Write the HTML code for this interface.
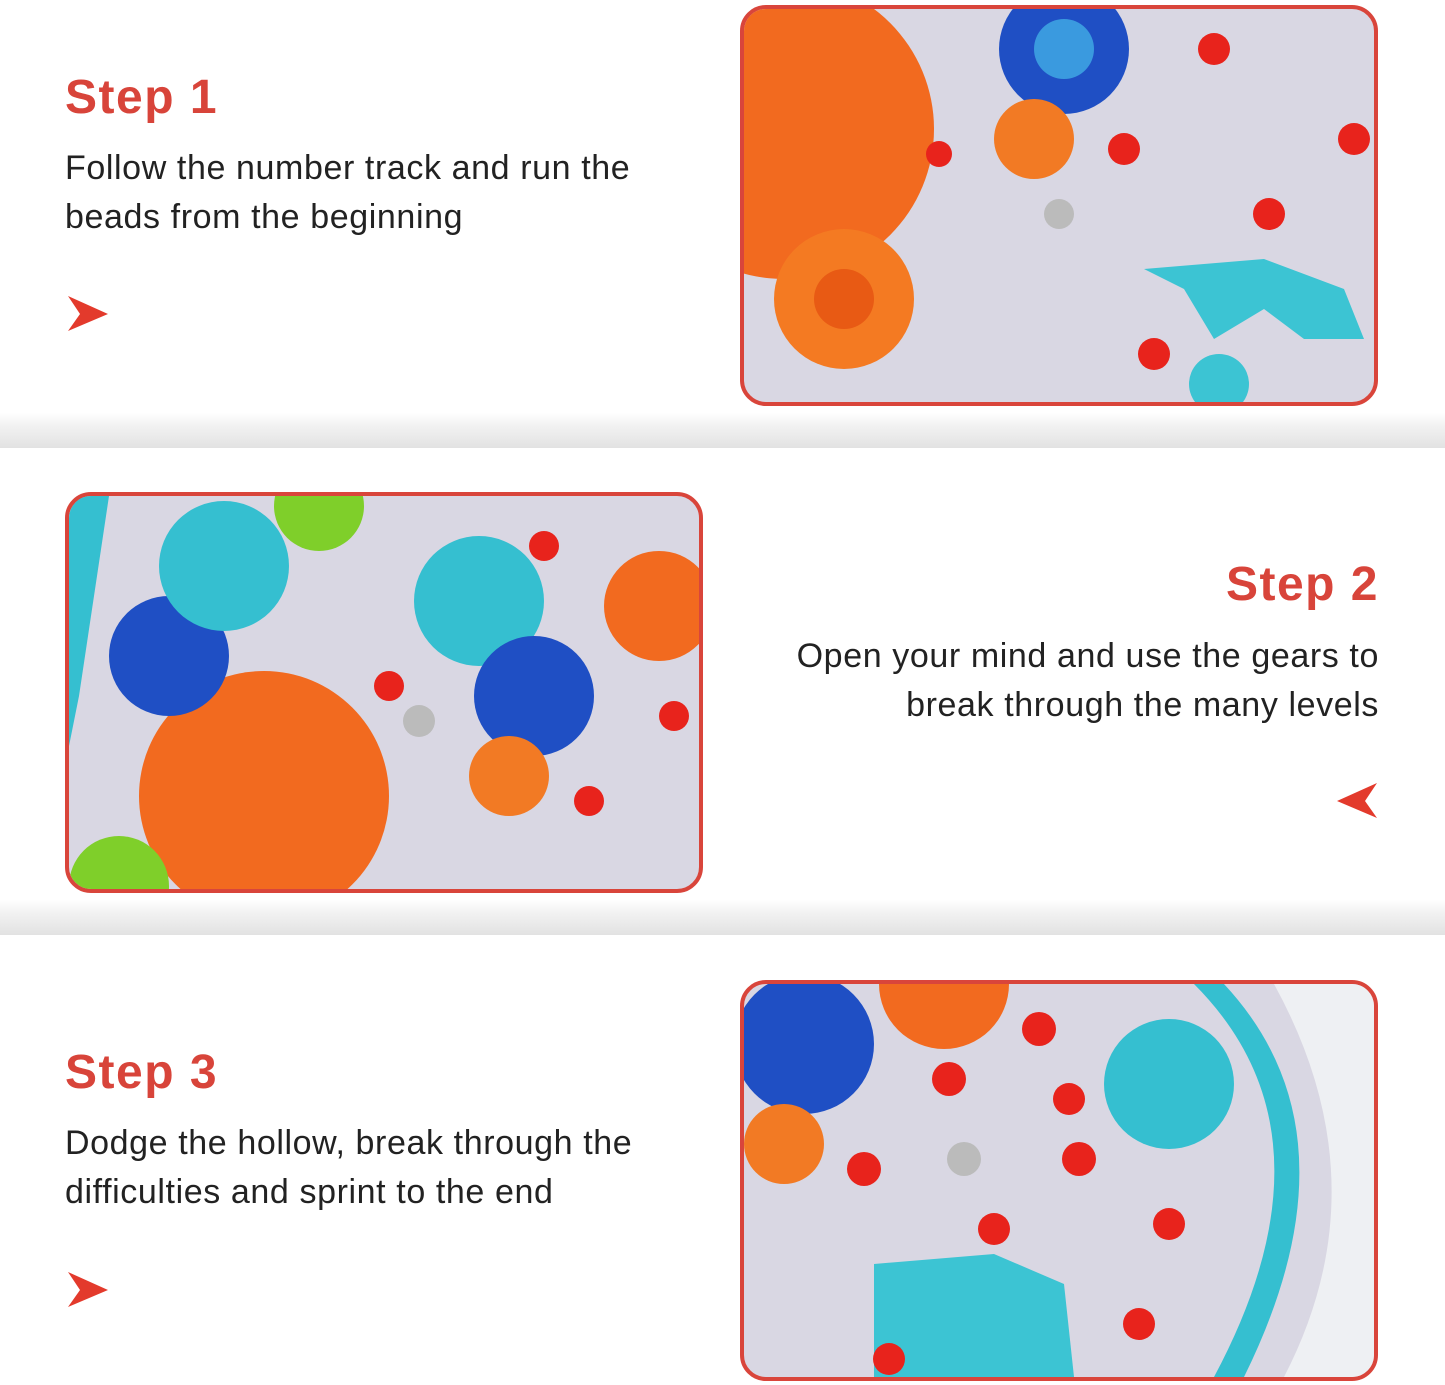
<!DOCTYPE html>
<html><head><meta charset="utf-8"><style>
body{margin:0;width:1445px;height:1385px;background:#fff;position:relative;overflow:hidden;font-family:"Liberation Sans",sans-serif}
.sep{position:absolute;left:0;width:1445px;height:35px;background:linear-gradient(#fff,#f1f1f1 40%,#e2e2e2)}
.t{position:absolute;color:#d8443a;font-weight:bold;font-size:48px;line-height:50px;letter-spacing:1.5px}
.b{position:absolute;color:#222;font-size:34px;line-height:49px;letter-spacing:0.6px;white-space:nowrap}
.ph{position:absolute;width:630px;height:393px;border:4px solid #d9453b;border-radius:26px;overflow:hidden;background:#d9d7e3}
svg{position:absolute;left:0;top:0}
</style></head><body>
<div class="sep" style="top:413px"></div>
<div class="sep" style="top:900px"></div>

<div class="t" style="left:65px;top:73px">Step 1</div>
<div class="b" style="left:65px;top:144px">Follow the number track and run the<br>beads from the beginning</div>
<svg width="1445" height="1385" style="pointer-events:none">
<polygon points="68,296 108,314 68,331 80,314" fill="#e33a2c"/>
<polygon points="1377,783 1337,801 1377,818 1365,801" fill="#e33a2c"/>
<polygon points="68,1272 108,1290 68,1307 80,1290" fill="#e33a2c"/>
</svg>

<div class="t" style="right:66px;top:560px;text-align:right">Step 2</div>
<div class="b" style="right:66px;top:632px;text-align:right">Open your mind and use the gears to<br>break through the many levels</div>

<div class="t" style="left:65px;top:1048px">Step 3</div>
<div class="b" style="left:65px;top:1119px">Dodge the hollow, break through the<br>difficulties and sprint to the end</div>

<div class="ph" style="left:740px;top:5px">
<svg width="630" height="393">
<circle cx="40" cy="120" r="150" fill="#f26a1f"/>
<circle cx="100" cy="290" r="70" fill="#f47a22"/>
<circle cx="100" cy="290" r="30" fill="#e85a14"/>
<circle cx="320" cy="40" r="65" fill="#1f4fc4"/>
<circle cx="320" cy="40" r="30" fill="#3a9adf"/>
<circle cx="290" cy="130" r="40" fill="#f27a24"/>
<path d="M400 260 L520 250 L600 280 L620 330 L560 330 L520 300 L470 330 L440 280 Z" fill="#3cc4d3"/>
<circle cx="475" cy="375" r="30" fill="#3cc4d3"/>
<circle cx="470" cy="40" r="16" fill="#e8231c"/><circle cx="380" cy="140" r="16" fill="#e8231c"/>
<circle cx="525" cy="205" r="16" fill="#e8231c"/><circle cx="610" cy="130" r="16" fill="#e8231c"/>
<circle cx="410" cy="345" r="16" fill="#e8231c"/><circle cx="195" cy="145" r="13" fill="#e8231c"/>
<circle cx="315" cy="205" r="15" fill="#bbb"/>
</svg></div>

<div class="ph" style="left:65px;top:492px">
<svg width="630" height="393">
<circle cx="195" cy="300" r="125" fill="#f26a1f"/>
<circle cx="100" cy="160" r="60" fill="#1f4fc4"/>
<circle cx="155" cy="70" r="65" fill="#35bfd0"/>
<circle cx="410" cy="105" r="65" fill="#35bfd0"/>
<circle cx="465" cy="200" r="60" fill="#1f4fc4"/>
<circle cx="440" cy="280" r="40" fill="#f27a24"/>
<circle cx="590" cy="110" r="55" fill="#f26a1f"/>
<circle cx="250" cy="10" r="45" fill="#7fcf2a"/>
<circle cx="50" cy="390" r="50" fill="#7fcf2a"/>
<path d="M0 0 L40 0 L10 200 L0 250 Z" fill="#35bfd0"/>
<circle cx="320" cy="190" r="15" fill="#e8231c"/><circle cx="475" cy="50" r="15" fill="#e8231c"/>
<circle cx="605" cy="220" r="15" fill="#e8231c"/><circle cx="520" cy="305" r="15" fill="#e8231c"/>
<circle cx="350" cy="225" r="16" fill="#bbb"/>
</svg></div>

<div class="ph" style="left:740px;top:980px">
<svg width="630" height="393">
<circle cx="60" cy="60" r="70" fill="#1f4fc4"/>
<circle cx="40" cy="160" r="40" fill="#f27a24"/>
<circle cx="200" cy="0" r="65" fill="#f26a1f"/>
<circle cx="425" cy="100" r="65" fill="#35bfd0"/>
<path d="M450 0 Q600 150 470 393 L500 393 Q620 150 480 0 Z" fill="#35bfd0"/>
<path d="M530 0 L630 0 L630 393 L540 393 Q640 200 530 0 Z" fill="#eef0f3"/>
<path d="M130 280 L250 270 L320 300 L330 393 L130 393 Z" fill="#3cc4d3"/>
<circle cx="295" cy="45" r="17" fill="#e8231c"/><circle cx="205" cy="95" r="17" fill="#e8231c"/>
<circle cx="325" cy="115" r="16" fill="#e8231c"/><circle cx="335" cy="175" r="17" fill="#e8231c"/>
<circle cx="120" cy="185" r="17" fill="#e8231c"/><circle cx="250" cy="245" r="16" fill="#e8231c"/>
<circle cx="425" cy="240" r="16" fill="#e8231c"/><circle cx="395" cy="340" r="16" fill="#e8231c"/>
<circle cx="145" cy="375" r="16" fill="#e8231c"/>
<circle cx="220" cy="175" r="17" fill="#bbb"/>
</svg></div>
</body></html>
